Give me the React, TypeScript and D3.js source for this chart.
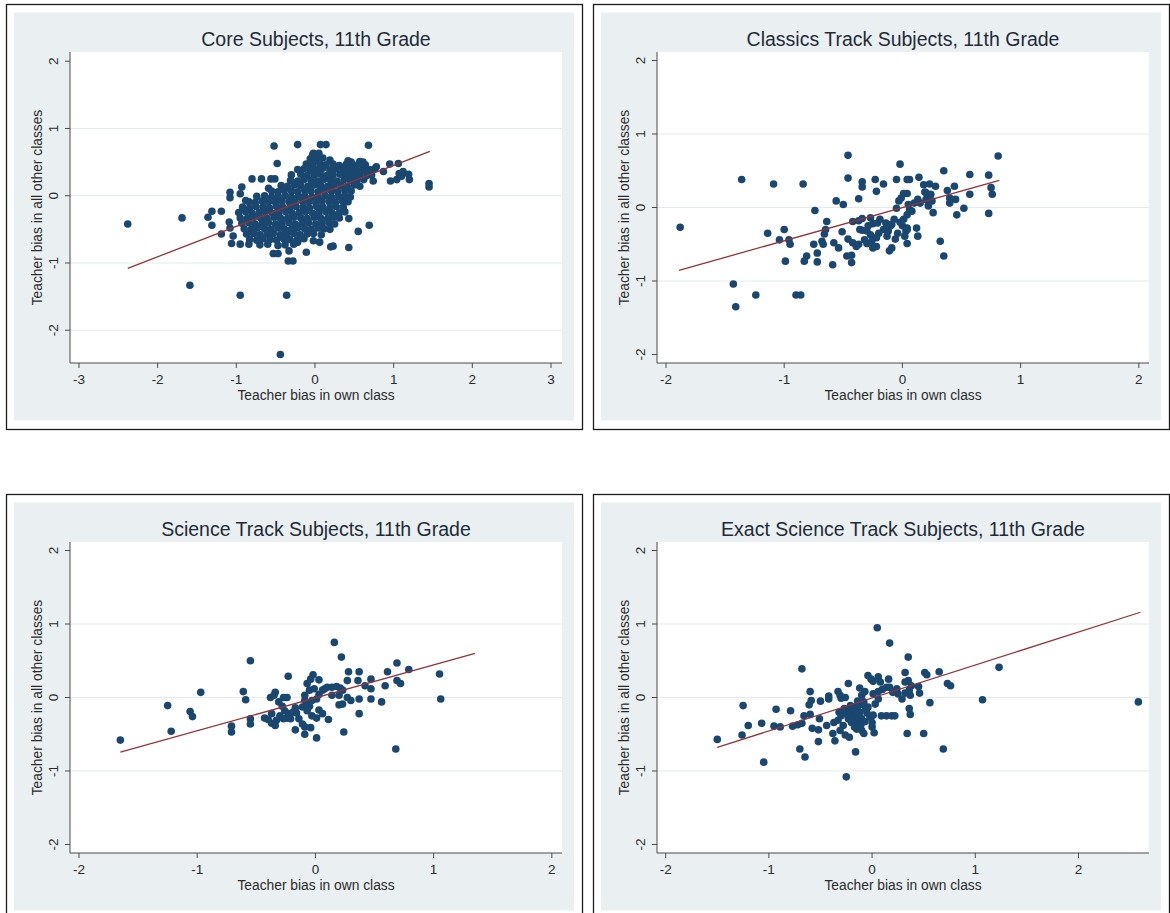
import React from 'react';
import * as d3 from 'd3';

type Pt = [number, number];

// ---- data: teacher bias in own class (x) vs. in all other classes (y) ----

const coreSubjects: Pt[] = [
  // sparse points around the main cloud
  [-2.38, -0.42], [-1.69, -0.33], [-1.59, -1.33], [-0.95, -1.48], [-0.36, -1.48], [-0.44, -2.36],
  [-1.36, -0.32], [-1.31, -0.23], [-1.31, -0.44], [-1.19, -0.23], [-1.19, -0.57], [-1.08, 0.05],
  [-1.08, -0.03], [-0.93, 0.13], [-0.95, 0.03], [-0.88, -0.07], [-1.09, -0.39], [-1.08, -0.48],
  [-1.04, -0.6], [-1.06, -0.71], [-0.95, -0.72], [-0.84, -0.72],
  [-0.8, 0.25], [-0.68, 0.25], [-0.56, 0.25], [-0.51, 0.25], [-0.59, 0.11],
  [-0.52, 0.74], [-0.48, 0.48], [-0.22, 0.76], [0.07, 0.76], [0.14, 0.76], [0.68, 0.75], [-0.02, 0.63],
  [-0.53, -0.86], [-0.47, -0.86], [-0.34, -0.97], [-0.28, -0.97], [-0.33, -0.82], [-0.22, -0.69],
  [-0.11, -0.84], [-0.02, -0.67], [0.06, -0.69], [0.2, -0.76], [0.23, -0.75], [0.43, -0.77],
  [0.43, -0.34], [0.55, -0.53], [0.69, -0.44],
  [0.95, 0.47], [1.06, 0.48], [0.96, 0.22], [1.04, 0.24], [1.07, 0.33], [1.12, 0.36], [1.19, 0.32],
  [1.2, 0.24], [1.1, 0.29], [1.45, 0.18], [1.45, 0.13],
  [0.87, 0.36], [0.78, 0.43], [0.74, 0.22], [0.61, 0.5], [0.57, 0.51], [0.42, 0.52], [0.55, 0.36],
  [0.46, 0.5], [0.57, 0.14], [0.53, 0.24], [0.61, 0.41],
  // dense core of the cloud
  [-0.03, 0.61], [0.05, 0.63],
  [-0.06, 0.55], [0.02, 0.54], [0.1, 0.56], [0.19, 0.53],
  [-0.11, 0.47], [-0.03, 0.46], [0.06, 0.48], [0.14, 0.46], [0.23, 0.47], [0.31, 0.45], [0.4, 0.47],
  [0.48, 0.46], [0.56, 0.48], [0.64, 0.46],
  [-0.22, 0.39], [-0.14, 0.4], [-0.06, 0.38], [0.02, 0.39], [0.1, 0.41], [0.19, 0.38], [0.27, 0.4],
  [0.36, 0.39], [0.44, 0.38], [0.52, 0.4], [0.61, 0.38], [0.69, 0.39], [0.76, 0.4],
  [-0.3, 0.31], [-0.18, 0.32], [-0.1, 0.3], [-0.01, 0.31], [0.07, 0.32], [0.15, 0.3], [0.23, 0.31],
  [0.32, 0.32], [0.4, 0.3], [0.49, 0.31], [0.57, 0.32], [0.66, 0.3], [0.72, 0.31],
  [-0.31, 0.23], [-0.22, 0.22], [-0.14, 0.24], [-0.05, 0.23], [0.03, 0.22], [0.11, 0.24], [0.2, 0.23],
  [0.28, 0.22], [0.37, 0.24], [0.45, 0.23], [0.53, 0.22], [0.62, 0.24],
  [-0.43, 0.15], [-0.35, 0.14], [-0.26, 0.16], [-0.18, 0.15], [-0.09, 0.14], [-0.01, 0.16], [0.07, 0.15],
  [0.16, 0.14], [0.24, 0.16], [0.33, 0.15], [0.41, 0.14], [0.5, 0.16],
  [-0.55, 0.07], [-0.47, 0.06], [-0.39, 0.08], [-0.3, 0.07], [-0.22, 0.06], [-0.13, 0.08], [-0.05, 0.07],
  [0.04, 0.06], [0.12, 0.08], [0.21, 0.07], [0.29, 0.06], [0.38, 0.08], [0.46, 0.07],
  [-0.74, -0.01], [-0.64, 0.0], [-0.55, -0.02], [-0.47, -0.01], [-0.38, 0.0], [-0.3, -0.02], [-0.21, -0.01],
  [-0.13, 0.0], [-0.04, -0.02], [0.04, -0.01], [0.13, 0.0], [0.21, -0.02], [0.3, -0.01], [0.38, 0.0], [0.45, -0.02],
  [-0.84, -0.09], [-0.76, -0.1], [-0.67, -0.08], [-0.59, -0.09], [-0.5, -0.1], [-0.42, -0.08], [-0.33, -0.09],
  [-0.25, -0.1], [-0.16, -0.08], [-0.08, -0.09], [0.01, -0.1], [0.09, -0.08], [0.18, -0.09], [0.26, -0.1],
  [0.35, -0.08], [0.42, -0.09],
  [-0.92, -0.17], [-0.83, -0.18], [-0.75, -0.16], [-0.66, -0.17], [-0.58, -0.18], [-0.49, -0.16], [-0.41, -0.17],
  [-0.32, -0.18], [-0.24, -0.16], [-0.15, -0.17], [-0.07, -0.18], [0.02, -0.16], [0.1, -0.17], [0.19, -0.18],
  [0.27, -0.16], [0.36, -0.17],
  [-0.97, -0.25], [-0.88, -0.24], [-0.8, -0.26], [-0.71, -0.25], [-0.63, -0.24], [-0.54, -0.26], [-0.46, -0.25],
  [-0.37, -0.24], [-0.29, -0.26], [-0.2, -0.25], [-0.12, -0.24], [-0.03, -0.26], [0.05, -0.25], [0.14, -0.24],
  [0.22, -0.26], [0.31, -0.25], [0.38, -0.24],
  [-0.95, -0.33], [-0.86, -0.34], [-0.78, -0.32], [-0.69, -0.33], [-0.61, -0.34], [-0.52, -0.32], [-0.44, -0.33],
  [-0.35, -0.34], [-0.27, -0.32], [-0.18, -0.33], [-0.1, -0.34], [-0.01, -0.32], [0.07, -0.33], [0.16, -0.34],
  [0.24, -0.32], [0.31, -0.33],
  [-0.93, -0.41], [-0.84, -0.4], [-0.76, -0.42], [-0.67, -0.41], [-0.59, -0.4], [-0.5, -0.42], [-0.42, -0.41],
  [-0.33, -0.4], [-0.25, -0.42], [-0.16, -0.41], [-0.08, -0.4], [0.01, -0.42], [0.09, -0.41], [0.18, -0.4],
  [0.25, -0.42],
  [-0.9, -0.49], [-0.81, -0.5], [-0.73, -0.48], [-0.64, -0.49], [-0.56, -0.5], [-0.47, -0.48], [-0.39, -0.49],
  [-0.3, -0.5], [-0.22, -0.48], [-0.13, -0.49], [-0.05, -0.5], [0.04, -0.48], [0.12, -0.49], [0.19, -0.5],
  [-0.87, -0.57], [-0.78, -0.56], [-0.7, -0.58], [-0.61, -0.57], [-0.53, -0.56], [-0.44, -0.58], [-0.36, -0.57],
  [-0.27, -0.56], [-0.19, -0.58], [-0.1, -0.57], [-0.02, -0.56], [0.08, -0.58],
  [-0.83, -0.65], [-0.74, -0.66], [-0.66, -0.64], [-0.57, -0.65], [-0.49, -0.66], [-0.4, -0.64], [-0.32, -0.65],
  [-0.23, -0.66], [-0.14, -0.64],
  [-0.7, -0.73], [-0.6, -0.72], [-0.47, -0.74], [-0.38, -0.73], [-0.27, -0.72],
];

const classicsTrack: Pt[] = [
  [-1.88, -0.27], [-1.36, 0.38], [-1.09, 0.32], [-0.84, 0.32], [-0.46, 0.71], [-0.46, 0.4], [-0.02, 0.59],
  [0.35, 0.5], [0.57, 0.45], [0.73, 0.44], [0.81, 0.7], [0.75, 0.27], [0.76, 0.18], [0.73, -0.08],
  [0.57, 0.18], [0.52, -0.01], [0.46, -0.1], [0.44, 0.29], [0.38, 0.23], [0.4, 0.13], [0.45, 0.11],
  [0.4, 0.06], [0.32, -0.46], [0.35, -0.66],
  [0.14, 0.41], [0.18, 0.31], [0.23, 0.32], [0.28, 0.29], [0.2, 0.2], [0.2, 0.11], [0.22, 0.04],
  [0.26, -0.07], [0.13, 0.11], [0.15, 0.06], [0.04, 0.38], [0.06, 0.38], [-0.05, 0.38],
  [0.01, 0.19], [0.04, 0.19], [-0.01, 0.13], [-0.03, 0.09], [-0.05, -0.01], [0.06, -0.03], [0.04, -0.1],
  [0.01, -0.16], [-0.02, -0.2], [0.04, -0.28], [0.03, -0.32], [0.02, -0.39], [0.04, -0.49], [0.12, -0.28],
  [0.13, -0.39],
  [-0.1, -0.25], [-0.12, -0.32], [-0.13, -0.39], [-0.11, -0.59], [-0.09, -0.55], [-0.14, -0.21],
  [-0.16, 0.32], [-0.22, 0.22], [-0.23, 0.38], [-0.34, 0.35], [-0.34, 0.28], [-0.37, 0.12], [-0.56, 0.09],
  [-0.5, 0.04], [-0.74, -0.04],
  [-0.64, -0.19], [-0.65, -0.3], [-0.66, -0.36], [-0.68, -0.46], [-0.67, -0.5], [-0.75, -0.5], [-0.72, -0.62],
  [-0.72, -0.74], [-0.81, -0.66], [-0.83, -0.73], [-0.59, -0.78], [-0.43, -0.75], [-0.43, -0.65], [-0.47, -0.66],
  [-0.58, -0.48], [-0.54, -0.55], [-0.51, -0.33], [-0.46, -0.43], [-0.42, -0.48], [-0.39, -0.53], [-0.37, -0.5],
  [-0.42, -0.19], [-0.37, -0.18], [-0.34, -0.15], [-0.34, -0.31], [-0.3, -0.32], [-0.27, -0.14], [-0.29, -0.25],
  [-0.25, -0.22], [-0.27, -0.37], [-0.26, -0.46], [-0.25, -0.55], [-0.22, -0.53], [-0.32, -0.44], [-0.3, -0.49],
  [-0.36, -0.3],
  [-1.14, -0.35], [-1.0, -0.3], [-1.04, -0.44], [-0.96, -0.44], [-0.95, -0.5], [-0.99, -0.73],
  [-1.43, -1.04], [-1.24, -1.19], [-1.41, -1.35], [-0.9, -1.19], [-0.86, -1.19],
  [0.08, -0.05], [0.05, 0.04], [-0.21, -0.21], [-0.19, -0.16], [-0.16, -0.3], [-0.2, -0.35], [-0.22, -0.41],
  [-0.13, -0.25], [-0.07, -0.16], [-0.09, -0.23], [0.1, 0.06], [0.25, 0.09], [0.22, 0.02], [0.24, 0.18],
  [0.19, 0.21], [0.0, -0.25], [-0.04, -0.35], [-0.06, -0.43], [0.04, -0.3],
];

const scienceTrack: Pt[] = [
  [-1.65, -0.58], [-1.25, -0.11], [-1.22, -0.46], [-1.06, -0.19], [-1.04, -0.26], [-0.97, 0.07],
  [-0.71, -0.39], [-0.71, -0.47], [-0.61, 0.08], [-0.59, -0.03], [-0.55, 0.5], [-0.55, -0.29], [-0.55, -0.36],
  [-0.43, -0.28], [-0.4, -0.3], [-0.37, -0.35], [-0.34, -0.38], [-0.33, -0.31], [-0.37, -0.22], [-0.35, 0.03],
  [-0.38, 0.0], [-0.34, 0.07],
  [-0.23, 0.29], [-0.27, 0.0], [-0.24, 0.0], [-0.31, -0.06], [-0.28, -0.12], [-0.26, -0.18], [-0.23, -0.22],
  [-0.24, -0.28], [-0.27, -0.29], [-0.3, -0.25], [-0.21, -0.29], [-0.19, -0.2], [-0.17, -0.14], [-0.16, -0.21],
  [-0.17, -0.44], [-0.09, -0.4], [-0.09, -0.5], [-0.04, -0.41], [0.01, -0.28], [0.06, -0.22], [0.11, -0.3],
  [0.03, -0.17], [-0.03, -0.25], [-0.05, -0.12], [0.01, -0.55],
  [-0.09, -0.04], [-0.09, 0.03], [-0.05, 0.1], [-0.07, 0.19], [-0.04, 0.25], [-0.02, 0.31], [0.03, 0.24],
  [-0.01, 0.12], [0.03, 0.04], [0.06, 0.1], [0.01, -0.02], [-0.03, -0.04], [-0.06, -0.09], [-0.07, -0.18],
  [0.08, 0.12], [0.1, 0.14], [0.14, 0.14], [0.18, 0.15], [0.21, 0.13], [0.23, 0.1], [0.2, 0.03], [0.27, 0.0],
  [0.23, -0.09], [0.2, -0.1],
  [0.16, 0.75], [0.22, 0.55], [0.28, 0.35], [0.37, 0.35], [0.27, 0.23], [0.36, 0.23],
  [0.3, -0.04], [0.37, -0.02], [0.47, -0.02], [0.47, 0.12], [0.47, 0.25], [0.42, 0.16], [0.56, -0.06],
  [0.59, 0.16], [0.37, -0.22], [0.24, -0.47],
  [0.61, 0.35], [0.69, 0.47], [0.69, 0.23], [0.72, 0.19], [0.79, 0.38], [0.68, -0.7], [1.05, 0.32], [1.06, -0.02],
  [-0.11, -0.13], [-0.14, -0.29], [-0.11, -0.36], [0.14, 0.03],
];

const exactScienceTrack: Pt[] = [
  [-1.5, -0.57], [-1.26, -0.51], [-1.25, -0.11], [-1.2, -0.38], [-1.07, -0.35], [-1.05, -0.88], [-0.95, -0.39],
  [-0.89, -0.4], [-0.93, -0.16], [-0.79, -0.18], [-0.77, -0.39], [-0.72, -0.37], [-0.68, -0.35], [-0.66, -0.25],
  [-0.68, 0.39], [-0.7, -0.7], [-0.65, -0.81], [-0.6, 0.08], [-0.59, -0.04], [-0.61, -0.1], [-0.6, -0.23],
  [-0.58, -0.42], [-0.52, -0.44], [-0.52, -0.6], [-0.5, -0.05], [-0.51, -0.29], [-0.44, -0.38], [-0.42, 0.02],
  [-0.42, -0.02], [-0.37, -0.34], [-0.38, -0.49], [-0.36, -0.59], [-0.33, 0.08], [-0.31, 0.03], [-0.3, -0.01],
  [-0.26, 0.0], [-0.23, 0.19],
  [-0.32, -0.2], [-0.3, -0.25], [-0.33, -0.31], [-0.28, -0.38], [-0.31, -0.45], [-0.26, -0.51], [-0.22, -0.54],
  [-0.25, -0.18], [-0.21, -0.11], [-0.2, -0.2], [-0.18, -0.13], [-0.17, -0.25], [-0.15, -0.18], [-0.13, -0.11],
  [-0.12, -0.2], [-0.1, -0.29], [-0.15, -0.34], [-0.2, -0.34], [-0.23, -0.29],
  [-0.16, -0.74], [-0.25, -1.08],
  [-0.12, 0.13], [-0.1, 0.03], [-0.07, 0.08], [-0.08, -0.06], [-0.04, -0.13], [-0.05, -0.21], [-0.02, -0.27],
  [0.0, -0.34], [0.01, -0.24], [-0.1, -0.45], [-0.08, -0.49], [-0.15, -0.43],
  [-0.04, 0.3], [-0.01, 0.25], [0.01, 0.22], [0.06, 0.28], [0.08, 0.21], [0.02, -0.48], [0.05, 0.95], [0.17, 0.74],
  [0.01, 0.05], [0.06, 0.08], [0.1, 0.11], [0.14, 0.14], [0.16, 0.25], [0.17, 0.14], [0.2, 0.07], [0.24, 0.12],
  [0.25, 0.05],
  [0.03, -0.09], [0.06, -0.02], [0.09, -0.25], [0.14, -0.25], [0.19, -0.25], [0.22, -0.25],
  [0.29, -0.02], [0.32, 0.06], [0.36, 0.1], [0.37, 0.03], [0.38, 0.16], [0.45, 0.15], [0.46, 0.06],
  [0.36, -0.15], [0.37, -0.23], [0.34, -0.49], [0.5, -0.49], [0.32, 0.34], [0.35, 0.55], [0.51, 0.34],
  [0.53, 0.31], [0.65, 0.35], [0.73, 0.19], [0.76, 0.16], [0.56, -0.07], [0.69, -0.7], [0.35, 0.23], [0.32, 0.21],
  [1.07, -0.03], [1.23, 0.41], [2.58, -0.06],
  [-0.27, -0.15], [-0.24, -0.23], [-0.19, -0.28], [-0.13, -0.29], [-0.07, -0.33], [-0.11, -0.38], [-0.17, -0.4],
  [-0.06, -0.16], [-0.09, -0.1], [-0.14, -0.05], [0.0, -0.4],
];

// fitted line end points for each subject group
const coreFit: Pt[] = [[-2.38, -1.08], [1.46, 0.66]];
const classicsFit: Pt[] = [[-1.89, -0.855], [0.82, 0.37]];
const scienceFit: Pt[] = [[-1.65, -0.745], [1.35, 0.6]];
const exactScienceFit: Pt[] = [[-1.5, -0.68], [2.6, 1.16]];

const panelTitles = [
  'Core Subjects, 11th Grade',
  'Classics Track Subjects, 11th Grade',
  'Science Track Subjects, 11th Grade',
  'Exact Science Track Subjects, 11th Grade',
];

const xTicksWide = [-3, -2, -1, 0, 1, 2, 3];
const xTicksNarrow = [-2, -1, 0, 1, 2];
const yTicks = [-2, -1, 0, 1, 2];
const gridCore = [1, 0, -1, -2];
const gridTrack = [1, 0, -1];

const xTitle = 'Teacher bias in own class';
const yTitle = 'Teacher bias in all other classes';

// ---- layout & style ----
const PANEL_W = 576;
const PANEL_H = 425;
const PL = 64;
const PR = 556;
const PT = 48;
const PB = 359;
const DOT_R = 3.8;

const NAVY = '#1a476f';
const MAROON = '#90353b';
const REGION = '#eaf0f2';
const GRID = '#e3e9ec';
const AXIS = '#4a4a4a';
const FONT = "'Liberation Sans', Arial, Helvetica, sans-serif";

interface PanelSpec {
  ox: number;
  oy: number;
  title: string;
  points: Pt[];
  fit: Pt[];
  xDomain: [number, number];
  yDomain: [number, number];
  xTicks: number[];
  grid: number[];
}

const panels: PanelSpec[] = [
  { ox: 6, oy: 4, title: panelTitles[0], points: coreSubjects, fit: coreFit,
    xDomain: [-3.114, 3.14], yDomain: [-2.487, 2.137], xTicks: xTicksWide, grid: gridCore },
  { ox: 593, oy: 4, title: panelTitles[1], points: classicsTrack, fit: classicsFit,
    xDomain: [-2.076, 2.086], yDomain: [-2.116, 2.116], xTicks: xTicksNarrow, grid: gridTrack },
  { ox: 6, oy: 494, title: panelTitles[2], points: scienceTrack, fit: scienceFit,
    xDomain: [-2.076, 2.086], yDomain: [-2.116, 2.116], xTicks: xTicksNarrow, grid: gridTrack },
  { ox: 593, oy: 494, title: panelTitles[3], points: exactScienceTrack, fit: exactScienceFit,
    xDomain: [-2.084, 2.683], yDomain: [-2.116, 2.116], xTicks: xTicksNarrow, grid: gridTrack },
];

const fmt = (v: number) => (v < 0 ? `-${Math.abs(v)}` : `${v}`);

function Panel({ spec }: { spec: PanelSpec }) {
  const x = d3.scaleLinear().domain(spec.xDomain).range([PL, PR]);
  const y = d3.scaleLinear().domain(spec.yDomain).range([PB, PT]);
  const fitPath = d3.line<Pt>().x((d) => x(d[0])).y((d) => y(d[1]))(spec.fit) ?? '';
  const cx = (PL + PR) / 2;
  const cy = (PT + PB) / 2;

  return (
    <g transform={`translate(${spec.ox},${spec.oy})`}>
      <rect x={0.5} y={0.5} width={PANEL_W} height={PANEL_H} fill="#ffffff" stroke="#1b1b1b" strokeWidth={1.3} />
      <rect x={8} y={8.5} width={PANEL_W - 16} height={PANEL_H - 17} fill={REGION} />
      <rect x={PL} y={PT} width={PR - PL} height={PB - PT} fill="#ffffff" />

      {spec.grid.map((g) => (
        <line key={`g${g}`} x1={PL} x2={PR} y1={y(g)} y2={y(g)} stroke={GRID} strokeWidth={1} />
      ))}

      <g fill={NAVY}>
        {spec.points.map((p, i) => (
          <circle key={i} cx={x(p[0])} cy={y(p[1])} r={DOT_R} />
        ))}
      </g>

      <path d={fitPath} fill="none" stroke={MAROON} strokeWidth={1.3} />

      {/* axes */}
      <line x1={PL} x2={PL} y1={PT} y2={PB} stroke={AXIS} strokeWidth={1} />
      <line x1={PL} x2={PR} y1={PB} y2={PB} stroke={AXIS} strokeWidth={1} />

      {yTicks.map((t) => (
        <g key={`yt${t}`}>
          <line x1={PL - 5} x2={PL} y1={y(t)} y2={y(t)} stroke={AXIS} strokeWidth={1} />
          <text
            transform={`translate(${PL - 17},${y(t)}) rotate(-90)`}
            textAnchor="middle"
            dominantBaseline="central"
            fontSize={13.5}
            fill="#2a2a2a"
          >
            {fmt(t)}
          </text>
        </g>
      ))}

      {spec.xTicks.map((t) => (
        <g key={`xt${t}`}>
          <line x1={x(t)} x2={x(t)} y1={PB} y2={PB + 5} stroke={AXIS} strokeWidth={1} />
          <text x={x(t)} y={PB + 16} textAnchor="middle" dominantBaseline="central" fontSize={13.5} fill="#2a2a2a">
            {fmt(t)}
          </text>
        </g>
      ))}

      <text x={cx} y={PB + 32} textAnchor="middle" dominantBaseline="central" fontSize={13.8} fill="#2a2a2a">
        {xTitle}
      </text>
      <text
        transform={`translate(31,${cy}) rotate(-90)`}
        textAnchor="middle"
        dominantBaseline="central"
        fontSize={13.8}
        fill="#2a2a2a"
      >
        {yTitle}
      </text>

      <text x={cx} y={35} textAnchor="middle" dominantBaseline="central" fontSize={19.5} fill="#1f2b38">
        {spec.title}
      </text>
    </g>
  );
}

export default function App() {
  return (
    <div style={{ position: 'absolute', left: 0, top: 0 }}>
      <svg width={1170} height={913} viewBox="0 0 1170 913" style={{ display: 'block', fontFamily: FONT }}>
        <rect width={1170} height={913} fill="#ffffff" />
        {panels.map((p) => (
          <Panel key={p.title} spec={p} />
        ))}
      </svg>
    </div>
  );
}
